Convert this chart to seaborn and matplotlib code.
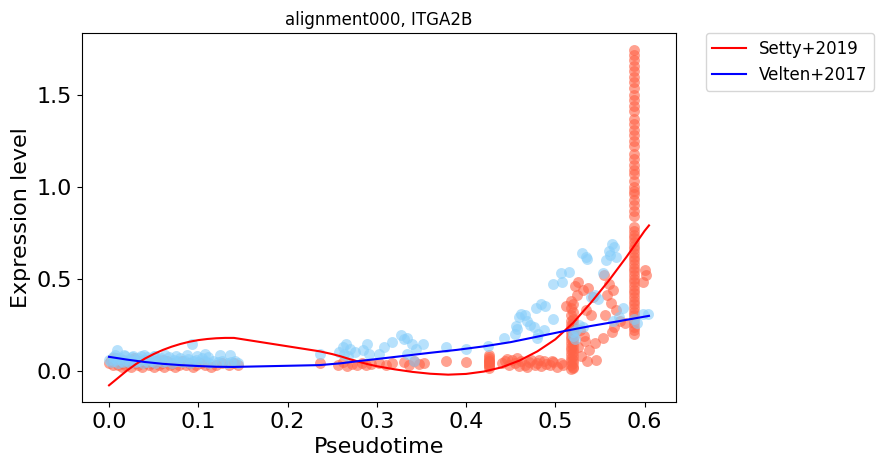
import matplotlib
matplotlib.use("Agg")
import matplotlib.pyplot as plt
import seaborn as sns

# Setty+2019 cells (pseudotime, expression)
setty_x_early = [0.000, 0.002, 0.004, 0.006, 0.008, 0.010, 0.012, 0.014, 0.016, 0.018,
                 0.020, 0.022, 0.025, 0.027, 0.030, 0.032, 0.035, 0.037, 0.040, 0.042,
                 0.045, 0.048, 0.050, 0.053, 0.056, 0.059, 0.062, 0.065, 0.068, 0.071,
                 0.074, 0.078, 0.082, 0.086, 0.090, 0.094, 0.098, 0.103, 0.108, 0.114,
                 0.120, 0.127, 0.134, 0.140, 0.144, 0.005, 0.015, 0.028, 0.043, 0.061]
setty_y_early = [0.04, 0.06, 0.03, 0.05, 0.07, 0.03, 0.05, 0.04, 0.06, 0.03,
                 0.05, 0.04, 0.02, 0.06, 0.04, 0.03, 0.05, 0.02, 0.04, 0.06,
                 0.03, 0.04, 0.02, 0.05, 0.03, 0.04, 0.02, 0.05, 0.03, 0.04,
                 0.02, 0.03, 0.05, 0.03, 0.04, 0.02, 0.03, 0.04, 0.03, 0.02,
                 0.03, 0.04, 0.03, 0.04, 0.03, 0.07, 0.02, 0.07, 0.06, 0.06]

setty_x_mid = [0.236, 0.256, 0.262, 0.267, 0.272, 0.278, 0.283, 0.288, 0.294, 0.303,
               0.310, 0.317, 0.330, 0.336, 0.342, 0.347, 0.353, 0.377, 0.400,
               0.426, 0.426, 0.426, 0.426, 0.426, 0.426, 0.426, 0.426, 0.426, 0.426]
setty_y_mid = [0.04, 0.03, 0.045, 0.025, 0.035, 0.03, 0.04, 0.03, 0.035, 0.04,
               0.03, 0.04, 0.045, 0.03, 0.05, 0.035, 0.04, 0.05, 0.045,
               0.015, 0.025, 0.035, 0.045, 0.055, 0.065, 0.075, 0.085, 0.03, 0.05]

setty_x_late = [0.440, 0.444, 0.448, 0.452, 0.455, 0.459, 0.462, 0.466, 0.470, 0.473,
                0.477, 0.480, 0.484, 0.487, 0.490, 0.494, 0.498, 0.502, 0.506, 0.509,
                0.446, 0.457, 0.468, 0.482, 0.496,
                0.512, 0.522, 0.526, 0.531, 0.537, 0.542, 0.524, 0.534, 0.540, 0.528,
                0.533, 0.538, 0.544, 0.529, 0.536, 0.525, 0.532, 0.546, 0.555, 0.560,
                0.565, 0.558, 0.562, 0.568, 0.556, 0.563, 0.553, 0.566, 0.572, 0.578,
                0.598, 0.602, 0.600]
setty_y_late = [0.04, 0.05, 0.03, 0.06, 0.04, 0.025, 0.05, 0.03, 0.045, 0.06,
                0.03, 0.04, 0.025, 0.05, 0.035, 0.03, 0.045, 0.02, 0.04, 0.03,
                0.065, 0.07, 0.02, 0.06, 0.055,
                0.35, 0.46, 0.48, 0.44, 0.45, 0.40, 0.41, 0.33, 0.30, 0.22,
                0.16, 0.11, 0.15, 0.08, 0.05, 0.13, 0.19, 0.06, 0.52, 0.47,
                0.44, 0.41, 0.37, 0.33, 0.30, 0.21, 0.18, 0.24, 0.27, 0.26,
                0.48, 0.52, 0.55]

# two vertical stacks of cells
setty_col1_x = [0.518, 0.520] * 17
setty_col1_y = [0.01, 0.02, 0.03, 0.04, 0.05, 0.06, 0.07, 0.08, 0.09, 0.10,
                0.11, 0.12, 0.13, 0.14, 0.15, 0.16, 0.17, 0.18, 0.19, 0.20,
                0.21, 0.22, 0.23, 0.24, 0.25, 0.26, 0.27, 0.28, 0.30, 0.32,
                0.34, 0.36, 0.38, 0.015]
setty_col2_y = [0.20, 0.22, 0.24, 0.26, 0.28, 0.30, 0.32, 0.34, 0.36, 0.38,
                0.40, 0.42, 0.44, 0.46, 0.48, 0.50, 0.52, 0.54, 0.56, 0.58,
                0.60, 0.62, 0.64, 0.66, 0.68, 0.70, 0.72, 0.74, 0.76, 0.78,
                0.84, 0.87, 0.90, 0.93, 0.96, 0.98, 1.00, 1.03,
                1.07, 1.09, 1.12, 1.15, 1.18, 1.22, 1.25, 1.28, 1.31, 1.34, 1.37,
                1.415, 1.44, 1.47, 1.50, 1.54, 1.57, 1.60, 1.63, 1.66, 1.69, 1.72, 1.745]
setty_col2_x = [0.588] * len(setty_col2_y)

# Velten+2017 cells
velten_x_early = [0.000, 0.002, 0.004, 0.006, 0.008, 0.010, 0.012, 0.014, 0.016, 0.018,
                  0.020, 0.022, 0.024, 0.026, 0.028, 0.030, 0.032, 0.034, 0.036, 0.038,
                  0.040, 0.042, 0.044, 0.046, 0.048, 0.050, 0.052, 0.055, 0.058, 0.061,
                  0.064, 0.067, 0.070, 0.073, 0.076, 0.079, 0.082, 0.085, 0.088, 0.091,
                  0.094, 0.097, 0.100, 0.104, 0.108, 0.112, 0.117, 0.122, 0.127, 0.132,
                  0.137, 0.141, 0.145, 0.007, 0.017, 0.027, 0.039, 0.051, 0.063, 0.075,
                  0.087, 0.099, 0.111, 0.093, 0.009, 0.107, 0.124, 0.135]
velten_y_early = [0.06, 0.045, 0.075, 0.05, 0.065, 0.04, 0.07, 0.055, 0.045, 0.08,
                  0.05, 0.065, 0.04, 0.075, 0.055, 0.045, 0.07, 0.05, 0.08, 0.04,
                  0.06, 0.075, 0.045, 0.065, 0.05, 0.08, 0.04, 0.06, 0.07, 0.045,
                  0.055, 0.075, 0.04, 0.06, 0.05, 0.07, 0.045, 0.055, 0.065, 0.04,
                  0.05, 0.06, 0.045, 0.07, 0.05, 0.04, 0.055, 0.045, 0.05, 0.04,
                  0.045, 0.05, 0.04, 0.085, 0.085, 0.08, 0.085, 0.08, 0.085, 0.08,
                  0.085, 0.08, 0.075, 0.146, 0.11, 0.09, 0.085, 0.085]

velten_x_mid = [0.236, 0.258, 0.262, 0.266, 0.270, 0.263, 0.284, 0.289, 0.291, 0.303,
                0.308, 0.317, 0.327, 0.330, 0.334, 0.340, 0.344, 0.352, 0.334, 0.342,
                0.377, 0.400, 0.268, 0.276]
velten_y_mid = [0.09, 0.10, 0.13, 0.146, 0.12, 0.09, 0.11, 0.146, 0.09, 0.09,
                0.13, 0.158, 0.196, 0.17, 0.175, 0.146, 0.12, 0.147, 0.09, 0.055,
                0.13, 0.12, 0.08, 0.10]

velten_x_late = [0.425, 0.442, 0.455, 0.456, 0.457, 0.459, 0.462, 0.466, 0.468, 0.472,
                 0.476, 0.480, 0.478, 0.484, 0.489, 0.481, 0.487, 0.498, 0.497, 0.507,
                 0.506, 0.515, 0.520, 0.523, 0.527, 0.531, 0.534, 0.530, 0.535, 0.540,
                 0.554, 0.557, 0.560, 0.563, 0.566, 0.568, 0.561, 0.576, 0.565, 0.571,
                 0.588, 0.592, 0.598, 0.604, 0.545, 0.548, 0.520, 0.522]
velten_y_late = [0.136, 0.18, 0.20, 0.245, 0.225, 0.29, 0.31, 0.30, 0.27, 0.25,
                 0.24, 0.18, 0.34, 0.36, 0.35, 0.20, 0.22, 0.28, 0.47, 0.48,
                 0.53, 0.535, 0.19, 0.22, 0.25, 0.24, 0.62, 0.64, 0.61, 0.40,
                 0.53, 0.60, 0.65, 0.69, 0.67, 0.62, 0.63, 0.34, 0.27, 0.29,
                 0.28, 0.26, 0.31, 0.31, 0.41, 0.39, 0.21, 0.17]

# fitted trends
setty_fit_x = [0.0, 0.01, 0.02, 0.03, 0.04, 0.05, 0.06, 0.07, 0.08, 0.09,
               0.10, 0.11, 0.12, 0.13, 0.14, 0.236, 0.25, 0.26, 0.27, 0.28,
               0.29, 0.30, 0.32, 0.34, 0.36, 0.38, 0.40, 0.42, 0.44, 0.46,
               0.48, 0.50, 0.52, 0.54, 0.56, 0.58, 0.60, 0.605]
setty_fit_y = [-0.08, -0.04, 0.0, 0.035, 0.065, 0.09, 0.112, 0.13, 0.145, 0.157,
               0.166, 0.172, 0.176, 0.178, 0.178, 0.105, 0.09, 0.077, 0.062, 0.048,
               0.035, 0.024, 0.007, -0.007, -0.017, -0.022, -0.018, -0.005, 0.018, 0.055,
               0.105, 0.17, 0.26, 0.37, 0.49, 0.62, 0.76, 0.79]
velten_fit_x = [0.0, 0.02, 0.04, 0.06, 0.08, 0.10, 0.12, 0.139, 0.236, 0.26,
                0.28, 0.30, 0.33, 0.36, 0.39, 0.42, 0.45, 0.48, 0.51, 0.54,
                0.57, 0.605]
velten_fit_y = [0.075, 0.06, 0.047, 0.037, 0.03, 0.025, 0.021, 0.02, 0.03, 0.04,
                0.052, 0.063, 0.08, 0.097, 0.113, 0.132, 0.155, 0.185, 0.215, 0.243,
                0.268, 0.298]

setty_x = setty_x_early + setty_x_mid + setty_x_late + setty_col1_x + setty_col2_x
setty_y = setty_y_early + setty_y_mid + setty_y_late + setty_col1_y + setty_col2_y
velten_x = velten_x_early + velten_x_mid + velten_x_late
velten_y = velten_y_early + velten_y_mid + velten_y_late

fig, ax = plt.subplots(figsize=(8.84, 4.67), dpi=100)
fig.subplots_adjust(left=0.0928, right=0.7647, bottom=0.139, top=0.929)

sns.scatterplot(x=setty_x, y=setty_y, color='tomato', alpha=0.6, s=62, linewidth=0, ax=ax)
sns.scatterplot(x=velten_x, y=velten_y, color='lightskyblue', alpha=0.6, s=62, linewidth=0, ax=ax)

sns.lineplot(x=setty_fit_x, y=setty_fit_y, color='red', label='Setty+2019',
             sort=False, estimator=None, ax=ax)
sns.lineplot(x=velten_fit_x, y=velten_fit_y, color='blue', label='Velten+2017',
             sort=False, estimator=None, ax=ax)

ax.set_title('alignment000, ITGA2B', fontsize=12)
ax.set_xlabel('Pseudotime', fontsize=16)
ax.set_ylabel('Expression level', fontsize=16)
ax.tick_params(labelsize=16)
ax.legend(bbox_to_anchor=(1.05, 1), loc='upper left', borderaxespad=0., fontsize=12)

fig.savefig('out.png', dpi=100)
